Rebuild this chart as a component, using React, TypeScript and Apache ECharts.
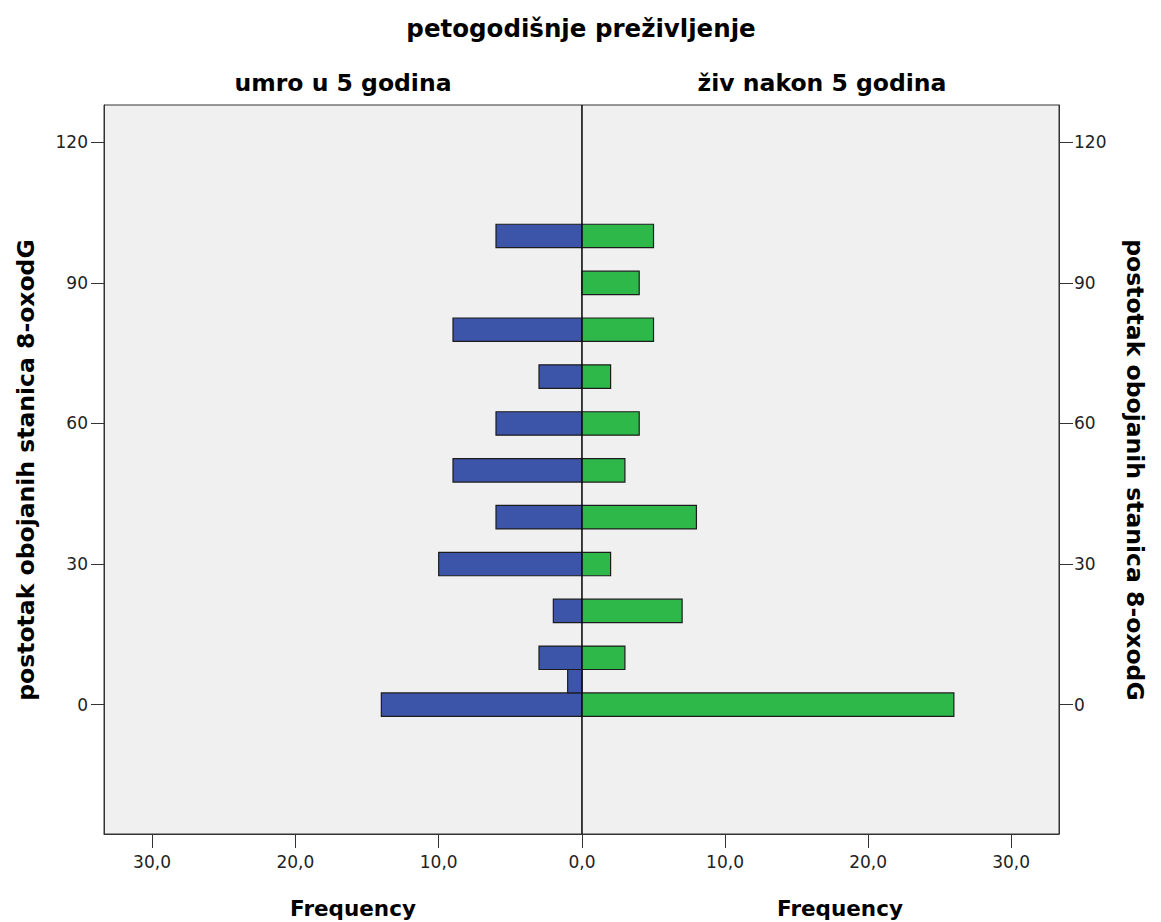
import React, { useEffect, useRef } from "react";
import * as echarts from "echarts";

const BINS = [0, 5, 10, 20, 30, 40, 50, 60, 70, 80, 90, 100];
const DIED = [14, 1, 3, 2, 10, 6, 9, 6, 3, 9, 0, 6];
const ALIVE = [26, 0, 3, 7, 2, 8, 3, 4, 2, 5, 4, 5];
const BIN_WIDTH = 5;
const Y_TICKS = [0, 30, 60, 90, 120];
const X_TICKS_LEFT = [10, 20, 30];
const X_TICKS_RIGHT = [0, 10, 20, 30];

const TITLE = "petogodišnje preživljenje";
const GROUP_LEFT = "umro u 5 godina";
const GROUP_RIGHT = "živ nakon 5 godina";
const X_NAME = "Frequency";
const Y_NAME = "postotak obojanih stanica 8-oxodG";

const FONT = "DejaVu Sans";
const BLUE = "#3d55a9";
const GREEN = "#2eb84a";

const fmtX = (v: number) => v.toFixed(1).replace(".", ",");

const renderBar = (params: any, api: any) => {
  const count = api.value(0);
  const y = api.value(1);
  const p0 = api.coord([0, y + BIN_WIDTH / 2]);
  const p1 = api.coord([count, y - BIN_WIDTH / 2]);
  const x = Math.min(p0[0], p1[0]);
  const top = Math.min(p0[1], p1[1]);
  return {
    type: "rect",
    shape: { x, y: top, width: Math.abs(p1[0] - p0[0]), height: Math.abs(p1[1] - p0[1]) },
    style: { fill: api.visual("color"), stroke: "#1c1c1c", lineWidth: 1.2 },
  };
};

const toData = (counts: number[]) =>
  BINS.map((b, i) => [counts[i], b]).filter((d) => d[0] > 0);

function text(x: number, y: number, t: string, size: number, bold: boolean, rotation = 0) {
  return {
    type: "text",
    x,
    y,
    rotation,
    style: {
      text: t,
      fill: "#000",
      fontSize: size,
      fontWeight: bold ? "bold" : "normal",
      fontFamily: FONT,
      align: "center",
      verticalAlign: "middle",
      textAlign: "center",
      textVerticalAlign: "middle",
    },
  };
}

export default function App() {
  const ref = useRef<HTMLDivElement>(null);
  useEffect(() => {
    document.body.style.margin = "0";
    const chart = echarts.init(ref.current!, undefined, { renderer: "svg" });
    const yMin = -27.6;
    const yMax = 127.95;
    const xMax = 33.35;
    const axisCommon = {
      type: "value",
      splitLine: { show: false },
      axisLine: { show: true, onZero: false, lineStyle: { color: "#333", width: 1 } },
    };
    const tickLabel = { fontFamily: FONT, fontSize: 17, color: "#222" };
    chart.setOption({
      animation: false,
      backgroundColor: "#fff",
      grid: [
        { left: 104, top: 105, width: 478, height: 729, show: true, backgroundColor: "#f0f0f0", borderColor: "#333", borderWidth: 1 },
        { left: 582, top: 105, width: 477, height: 729, show: true, backgroundColor: "#f0f0f0", borderColor: "#333", borderWidth: 1 },
      ],
      xAxis: [
        {
          ...axisCommon,
          gridIndex: 0,
          position: "bottom",
          inverse: true,
          min: 0,
          max: xMax,
          axisTick: { show: true, length: 14, customValues: X_TICKS_LEFT, lineStyle: { color: "#333" } },
          axisLabel: { ...tickLabel, margin: 19, customValues: X_TICKS_LEFT, formatter: fmtX },
        },
        {
          ...axisCommon,
          gridIndex: 1,
          position: "bottom",
          min: 0,
          max: xMax,
          axisTick: { show: true, length: 14, customValues: X_TICKS_RIGHT, lineStyle: { color: "#333" } },
          axisLabel: { ...tickLabel, margin: 19, customValues: X_TICKS_RIGHT, formatter: fmtX },
        },
      ],
      yAxis: [
        {
          ...axisCommon,
          gridIndex: 0,
          position: "left",
          min: yMin,
          max: yMax,
          axisTick: { show: true, length: 13, customValues: Y_TICKS, lineStyle: { color: "#333" } },
          axisLabel: { ...tickLabel, margin: 16, customValues: Y_TICKS },
        },
        {
          ...axisCommon,
          gridIndex: 1,
          position: "right",
          min: yMin,
          max: yMax,
          axisTick: { show: true, length: 14, customValues: Y_TICKS, lineStyle: { color: "#333" } },
          axisLabel: { ...tickLabel, margin: 15, customValues: Y_TICKS },
        },
      ],
      series: [
        {
          type: "custom",
          name: GROUP_LEFT,
          xAxisIndex: 0,
          yAxisIndex: 0,
          itemStyle: { color: BLUE },
          encode: { x: 0, y: 1 },
          renderItem: renderBar,
          data: toData(DIED),
        },
        {
          type: "custom",
          name: GROUP_RIGHT,
          xAxisIndex: 1,
          yAxisIndex: 1,
          itemStyle: { color: GREEN },
          encode: { x: 0, y: 1 },
          renderItem: renderBar,
          data: toData(ALIVE),
        },
      ],
      graphic: [
        { type: "line", shape: { x1: 582, y1: 105, x2: 582, y2: 834 }, style: { stroke: "#000", lineWidth: 1 }, z: 100 },
        text(581, 28, TITLE, 24.5, true),
        text(343, 83, GROUP_LEFT, 23.5, true),
        text(822, 83, GROUP_RIGHT, 23.5, true),
        text(353, 908, X_NAME, 21.5, true),
        text(840, 908, X_NAME, 21.5, true),
        text(26, 470, Y_NAME, 23.5, true, Math.PI / 2),
        text(1135, 470, Y_NAME, 23.5, true, -Math.PI / 2),
      ],
    });
    return () => chart.dispose();
  }, []);
  return <div ref={ref} style={{ width: 1161, height: 922 }} />;
}
